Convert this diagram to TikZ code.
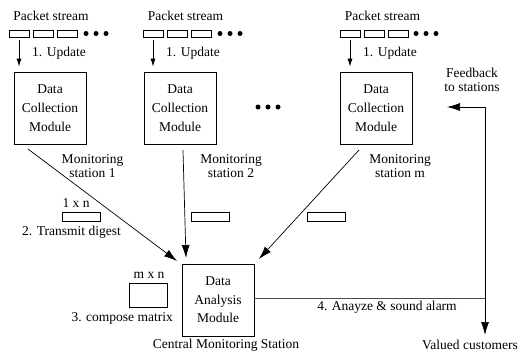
\documentclass[tikz,border=0pt]{standalone}
\usepackage{fontspec}
\setmainfont{Liberation Serif}
\usetikzlibrary{arrows.meta}
\begin{document}
\begin{tikzpicture}[x=1pt,y=-1pt,
  every node/.style={font=\fontsize{13.5}{16}\selectfont, inner sep=0pt},
  module/.style={draw, line width=0.8pt, minimum width=72pt, minimum height=72pt, align=center, font=\fontsize{13.5}{19}\selectfont},
  cell/.style={draw, line width=0.7pt, minimum width=20pt, minimum height=7pt},
  digest/.style={draw, line width=0.7pt, minimum width=38pt, minimum height=9pt},
  pdot/.style={circle, fill, minimum size=5pt},
  big/.style={-{Latex[length=13pt,width=8pt]}, line width=0.7pt},
  small/.style={-{Latex[length=8pt,width=5pt]}, line width=0.7pt},
  lbl/.style={align=center, font=\fontsize{13.5}{14}\selectfont}]
\useasboundingbox (0,0) rectangle (519,356);

% ---- station 1
\node (ps1) at (51,16) {Packet stream};
\node[cell] (c11) at (19,33.5) {};
\node[cell] (c12) at (43,33.5) {};
\node[cell] (c13) at (67,33.5) {};
\node[pdot] (d11) at (86,33.5) {};
\node[pdot] (d12) at (96,33.5) {};
\node[pdot] (d13) at (106,33.5) {};
\node[module] (m1) at (50,108) {Data\\Collection\\Module};
\draw[small] ([yshift=-3pt]c11.south) -- ([yshift=5pt]m1.north -| c11);
\node[anchor=west] (u1) at (32,53) {1. Update};
\node[lbl] (ms1) at (92.5,166.5) {Monitoring\\station 1};

% ---- station 2
\node (ps2) at (185.5,16) {Packet stream};
\node[cell] (c21) at (153,33.5) {};
\node[cell] (c22) at (177,33.5) {};
\node[cell] (c23) at (201,33.5) {};
\node[pdot] (d21) at (220,33.5) {};
\node[pdot] (d22) at (230,33.5) {};
\node[pdot] (d23) at (240,33.5) {};
\node[module] (m2) at (180,108) {Data\\Collection\\Module};
\draw[small] ([yshift=-3pt]c21.south) -- ([yshift=5pt]m2.north -| c21);
\node[anchor=west] (u2) at (166,53) {1. Update};
\node[lbl] (ms2) at (231,166.5) {Monitoring\\station 2};

% ---- middle dots
\node[pdot] (md1) at (258,107) {};
\node[pdot] (md2) at (268,107) {};
\node[pdot] (md3) at (278,107) {};

% ---- station m
\node (psm) at (382.5,16) {Packet stream};
\node[cell] (cm1) at (350,33.5) {};
\node[cell] (cm2) at (374,33.5) {};
\node[cell] (cm3) at (398,33.5) {};
\node[pdot] (dm1) at (416,33.5) {};
\node[pdot] (dm2) at (426,33.5) {};
\node[pdot] (dm3) at (436,33.5) {};
\node[module] (mm) at (376,108) {Data\\Collection\\Module};
\draw[small] ([yshift=-3pt]cm1.south) -- ([yshift=5pt]mm.north -| cm1);
\node[anchor=west] (um) at (363,53) {1. Update};
\node[lbl] (msm) at (400,166.5) {Monitoring\\station m};

% ---- central station
\node[module, font=\fontsize{13.5}{18.5}\selectfont] (dam) at (218,300) {Data\\Analysis\\Module};
\node (cms) at (226,345) {Central Monitoring Station};

\coordinate (s1) at (28,149);
\coordinate (e1) at (177,261);
\coordinate (s2) at (183,150);
\coordinate (e2) at (186,258);
\coordinate (sm) at (359,150);
\coordinate (em) at (259,259);
\draw[big] (s1) -- (e1);
\draw[big] (s2) -- (e2);
\draw[big] (sm) -- (em);

% digests
\node[digest] (dg1) at (81,216.5) {};
\node[digest] (dg2) at (210.5,216.5) {};
\node[digest] (dg3) at (326.5,216.5) {};
\node (l1n) at (76,203) {1 x n};
\node (td) at (71.5,232) {2. Transmit digest};

\node[draw, line width=0.7pt, minimum width=38pt, minimum height=24pt] (mx) at (148,295) {};
\node (lmn) at (149,275) {m x n};
\node[anchor=east] (cmx) at (173,318) {3. compose matrix};

% feedback
\coordinate (j) at (485,298);
\coordinate (fb) at (485,107);
\coordinate (fbtip) at (447,107);
\coordinate (vc) at (485,335);
\draw[line width=0.8pt, black!70] ([yshift=2pt]dam.east) -- (j);
\draw[{Latex[length=13pt,width=8pt]}-{Latex[length=13pt,width=8pt]}, line width=0.7pt] (fbtip) -- (fb) -- (vc);
\node (alarm) at (387,307) {4. Anayze \& sound alarm};
\node[lbl] (fbl) at (472,79.5) {Feedback\\to stations};
\node (vcl) at (470,345) {Valued customers};
\end{tikzpicture}
\end{document}
